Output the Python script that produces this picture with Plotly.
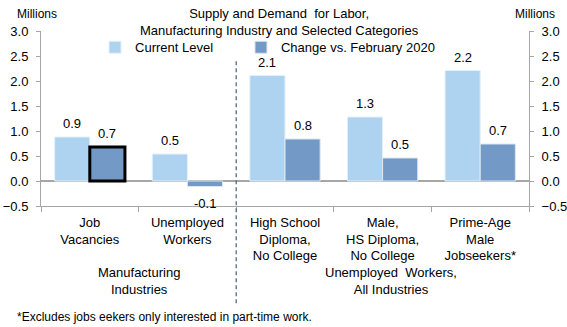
import plotly.graph_objects as go

# Category labels (multi-line) and series values, in millions
categories = [
    "Job<br>Vacancies",
    "Unemployed<br>Workers",
    "High School<br>Diploma,<br>No College",
    "Male,<br>HS Diploma,<br>No College",
    "Prime-Age<br>Male<br>Jobseekers*",
]
current_level = [0.88, 0.54, 2.11, 1.28, 2.21]
change_vs_feb2020 = [0.68, -0.11, 0.84, 0.46, 0.74]
highlight_index = 0  # change bar drawn with a heavy outline

y_ticks = [-0.5, 0.0, 0.5, 1.0, 1.5, 2.0, 2.5, 3.0]

FONT = "Liberation Sans, Arial, sans-serif"
TXT = "#000000"
LIGHT = "#ADD3F0"
DARK = "#7399C6"
AXIS = "#A6A6A6"
BARGAP = 0.28

fig = go.Figure()

fig.add_trace(go.Bar(
    name="Current Level", legend="legend",
    x=categories, y=current_level, offsetgroup="cur",
    marker=dict(color=LIGHT, line=dict(color="#E4F0FA", width=1)),
))

fig.add_trace(go.Bar(
    name="Change vs. February 2020", legend="legend2",
    x=categories, y=change_vs_feb2020, offsetgroup="chg",
    marker=dict(color=DARK, line=dict(color="#DDE6F1", width=1)),
))

# Heavy outline over the highlighted change bar (same slot as the change series)
fig.add_trace(go.Bar(
    x=[categories[highlight_index]], y=[change_vs_feb2020[highlight_index]],
    offsetgroup="chg", showlegend=False, hoverinfo="skip",
    marker=dict(color="rgba(0,0,0,0)", line=dict(color="#000000", width=3)),
))

# Invisible trace so the right-hand axis is drawn
fig.add_trace(go.Scatter(x=[categories[0]], y=[0], yaxis="y2",
                         mode="markers", marker=dict(opacity=0),
                         showlegend=False, hoverinfo="skip"))

yax = dict(
    range=[-0.5, 3.0], tickvals=y_ticks, tickformat=".1f",
    showgrid=False, zeroline=False,
    showline=True, linecolor=AXIS, linewidth=1,
    ticks="outside", ticklen=4, tickcolor=AXIS,
    tickfont=dict(family=FONT, size=13, color=TXT),
)

legend_common = dict(
    orientation="h", xanchor="left", yanchor="middle", y=0.907,
    font=dict(family=FONT, size=13, color=TXT),
    bgcolor="rgba(0,0,0,0)",
)

fig.update_layout(
    width=567, height=327,
    margin=dict(l=41, r=38, t=31, b=121, autoexpand=False),
    paper_bgcolor="white", plot_bgcolor="white",
    barmode="group", bargap=BARGAP, bargroupgap=0.0,
    font=dict(family=FONT, size=13, color=TXT),
    showlegend=True,
    legend=dict(legend_common, x=0.1107),
    legend2=dict(legend_common, x=0.4098),
    xaxis=dict(
        type="category", tickson="boundaries",
        showgrid=False, showline=True, linecolor=AXIS, linewidth=1,
        ticks="outside", ticklen=5, tickcolor=AXIS, ticklabelstandoff=4,
        tickfont=dict(family=FONT, size=13, color=TXT),
    ),
    yaxis=dict(yax, ticklabelstandoff=5),
    yaxis2=dict(yax, overlaying="y", side="right", ticklabelstandoff=5),
)

# Zero baseline
fig.add_shape(type="line", xref="paper", yref="y", x0=0, x1=1, y0=0, y1=0,
              line=dict(color=AXIS, width=2), layer="below")

# Dashed divider between manufacturing and all-industry groups
fig.add_shape(type="line", xref="x", yref="paper", x0=1.5, x1=1.5,
              y0=-0.556, y1=0.845,
              line=dict(color="#4F6D8A", width=1.3, dash="4px,3px"))

ann = dict(showarrow=False, font=dict(family=FONT, size=13, color=TXT))

# Value labels above (or below) each bar, centred on the bar's slot
half = (1 - BARGAP) / 4
for series, offset in ((current_level, -half), (change_vs_feb2020, half)):
    for i, v in enumerate(series):
        fig.add_annotation(
            text=f"{v:.1f}", xref="x", yref="y", x=i + offset, y=v,
            xanchor="center", yanchor="bottom" if v >= 0 else "top",
            yshift=4 if v >= 0 else -7, **ann)

fig.add_annotation(
    text="Supply and Demand  for Labor,<br>Manufacturing Industry and Selected Categories",
    xref="paper", yref="paper", x=(279 - 41) / 488, y=1.05,
    xanchor="center", yanchor="middle", **ann)
fig.add_annotation(text="Manufacturing<br>Industries", xref="x", yref="paper",
                   x=0.5, y=-0.43, xanchor="center", yanchor="middle", **ann)
fig.add_annotation(text="Unemployed  Workers,<br>All Industries", xref="x", yref="paper",
                   x=3.09, y=-0.43, xanchor="center", yanchor="middle", **ann)

small = dict(showarrow=False, font=dict(family=FONT, size=12, color=TXT))
fig.add_annotation(text="*Excludes jobs eekers only interested in part-time work.",
                   xref="paper", yref="paper", x=-0.053, y=-0.636,
                   xanchor="left", yanchor="middle", **small)
fig.add_annotation(text="Millions", xref="paper", yref="paper",
                   x=-0.053, y=1.095, xanchor="left", yanchor="middle", **small)
fig.add_annotation(text="Millions", xref="paper", yref="paper",
                   x=1.057, y=1.095, xanchor="right", yanchor="middle", **small)

fig.write_html("out.html")
